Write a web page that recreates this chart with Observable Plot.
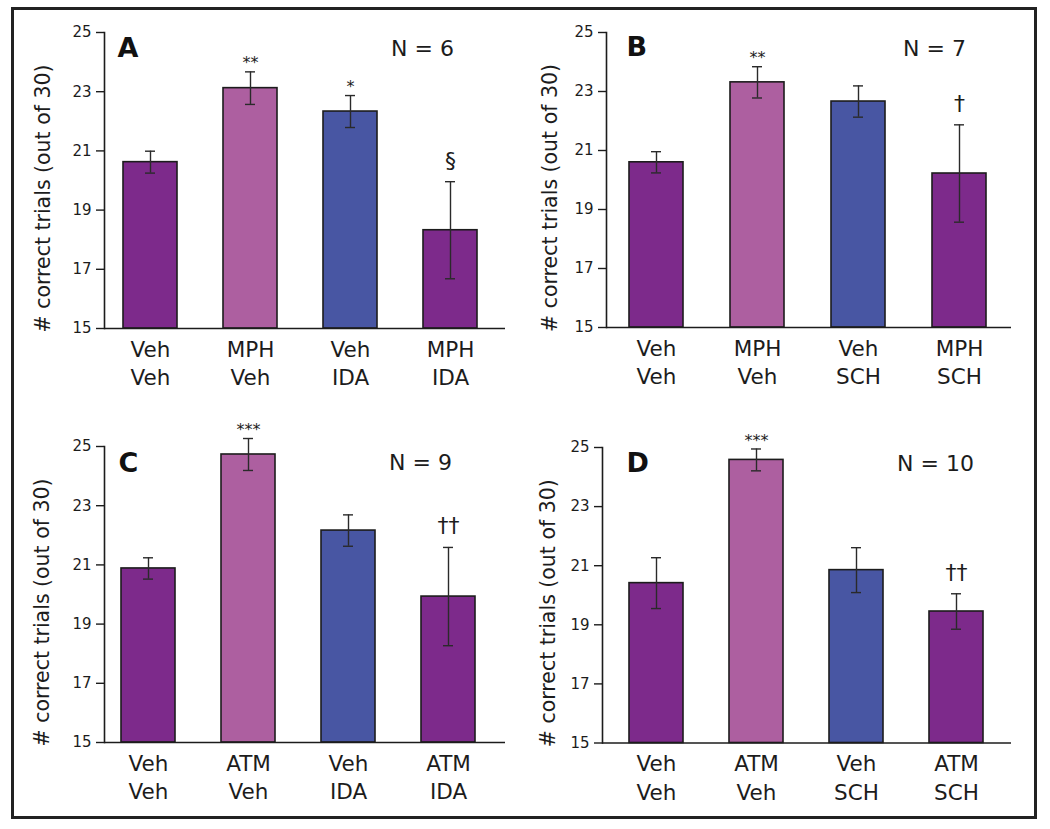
<!DOCTYPE html>
<html><head><meta charset="utf-8">
<script src="https://cdn.jsdelivr.net/npm/d3@7"></script>
<script src="https://cdn.jsdelivr.net/npm/@observablehq/plot@0.6"></script>
<style>
body{margin:0;background:#fff;}
#wrap{position:relative;width:1050px;height:829px;overflow:hidden;}
#border{position:absolute;left:11px;top:7px;width:1026px;height:812px;border:3px solid #222;box-sizing:border-box;}
</style></head><body><div id="wrap"><div id="border"></div></div>
<script>
// ---- data ----
const panelLetters = ["A", "B", "C", "D"];
const panelN = ["N = 6", "N = 7", "N = 9", "N = 10"];
const yLabel = "# correct trials (out of 30)";
const yTicks = [15, 17, 19, 21, 23, 25];
const groups = ["Veh+Veh", "Drug+Veh", "Veh+Antagonist", "Drug+Antagonist"];

const catsA = ["Veh\nVeh", "MPH\nVeh", "Veh\nIDA", "MPH\nIDA"];
const catsB = ["Veh\nVeh", "MPH\nVeh", "Veh\nSCH", "MPH\nSCH"];
const catsC = ["Veh\nVeh", "ATM\nVeh", "Veh\nIDA", "ATM\nIDA"];
const catsD = ["Veh\nVeh", "ATM\nVeh", "Veh\nSCH", "ATM\nSCH"];

const meanA = [20.62, 23.12, 22.33, 18.32];
const seA   = [0.37, 0.55, 0.54, 1.64];
const meanB = [20.60, 23.31, 22.66, 20.22];
const seB   = [0.36, 0.53, 0.53, 1.65];
const meanC = [20.88, 24.73, 22.16, 19.93];
const seC   = [0.36, 0.54, 0.53, 1.66];
const meanD = [20.41, 24.58, 20.85, 19.45];
const seD   = [0.86, 0.37, 0.76, 0.60];

const notesA = ["", "**", "*", "§"];
const notesB = ["", "**", "", "†"];
const notesC = ["", "***", "", "††"];
const notesD = ["", "***", "", "††"];

// ---- styles / layout ----
const colors = ["#7d2a8b", "#ad5fa0", "#4856a3", "#7d2a8b"];
const FONT = "DejaVu Sans, Liberation Sans, sans-serif";
const layout = [
  {left: 104, top: 32,  bottom: 328, right: 505,  first: 19, step: 100.0, labelDx: -61, letterDx: 13, letterDy: 5, nX: 318, nDy: 8},
  {left: 606, top: 32,  bottom: 327, right: 1011, first: 23, step: 101.3, labelDx: -56, letterDx: 20, letterDy: 4, nX: 328, nDy: 8},
  {left: 104, top: 446, bottom: 742, right: 505,  first: 17, step: 100.3, labelDx: -62, letterDx: 14, letterDy: 6, nX: 316, nDy: 8},
  {left: 602, top: 446.5, bottom: 742, right: 1011, first: 27, step: 100.3, labelDx: -54, letterDx: 24, letterDy: 5, nX: 333, nDy: 8}
];

const cats = [catsA, catsB, catsC, catsD];
const means = [meanA, meanB, meanC, meanD];
const ses = [seA, seB, seC, seD];
const notes = [notesA, notesB, notesC, notesD];

const wrap = document.getElementById("wrap");
const INK = "#1c1c1c";

for (let i = 0; i < 4; i++) {
  const L = layout[i];
  const ML = 100, MT = 30, MR = 8, MB = 80;
  const h = L.bottom - L.top;
  const w = L.right - L.left;
  const data = cats[i].map((c, j) => ({cat: c, mean: means[i][j], se: ses[i][j], group: groups[j], note: notes[i][j]}));
  const bw = 54;
  const pi = 1 - bw / L.step;
  const stars = data.filter(d => d.note && d.note[0] === "*");
  const others = data.filter(d => d.note && d.note[0] !== "*");
  const plot = Plot.plot({
    width: ML + w + MR,
    height: MT + h + MB,
    marginLeft: ML, marginTop: MT, marginRight: MR, marginBottom: MB,
    style: {fontFamily: FONT, fontSize: "15px", background: "transparent", color: INK, overflow: "visible"},
    x: {domain: cats[i], range: [ML + L.first, ML + L.first + 3 * L.step + bw], paddingInner: pi, paddingOuter: 0, align: 0},
    y: {domain: [15, 25]},
    color: {domain: groups, range: colors},
    marks: [
      Plot.barY(data, {x: "cat", y1: 15, y2: "mean", fill: "group", stroke: INK, strokeWidth: 1.6}),
      Plot.ruleX(data, {x: "cat", y1: d => d.mean - d.se, y2: d => d.mean + d.se, stroke: "#2a2a2a", strokeWidth: 1.4}),
      Plot.tickY(data, {x: "cat", y: d => d.mean + d.se, stroke: "#2a2a2a", strokeWidth: 1.4, insetLeft: 22, insetRight: 22}),
      Plot.tickY(data, {x: "cat", y: d => d.mean - d.se, stroke: "#2a2a2a", strokeWidth: 1.4, insetLeft: 22, insetRight: 22}),
      Plot.ruleY([15], {stroke: INK, strokeWidth: 1.6}),
      Plot.frame({anchor: "left", stroke: INK, strokeWidth: 1.6}),
      Plot.axisY({ticks: yTicks, tickSize: 8, tickPadding: 5, label: null, fontSize: 15, stroke: INK, strokeWidth: 1.4}),
      Plot.axisX({tickSize: 0, tickPadding: 8, label: null, fontSize: 21.5, lineHeight: 1.32}),
      Plot.text([yLabel], {frameAnchor: "left", rotate: -90, dx: L.labelDx, dy: 18, fontSize: 20.5, textAnchor: "middle", lineAnchor: "middle", fill: INK}),
      Plot.text([panelLetters[i]], {frameAnchor: "top-left", dx: L.letterDx, dy: L.letterDy, textAnchor: "start", lineAnchor: "top", fontSize: 27, fontWeight: "bold", fill: "#111"}),
      Plot.text([panelN[i]], {frameAnchor: "top-left", dx: L.nX, dy: L.nDy, textAnchor: "middle", lineAnchor: "top", fontSize: 22, fill: INK}),
      Plot.text(stars, {x: "cat", y: d => d.mean + d.se, text: "note", fontSize: 16, dy: -8.5, lineAnchor: "middle", fill: INK}),
      Plot.text(others, {x: "cat", y: d => d.mean + d.se, text: "note", fontSize: 22, dy: -21, lineAnchor: "middle", fill: INK})
    ]
  });
  plot.style.position = "absolute";
  plot.style.left = (L.left - ML) + "px";
  plot.style.top = (L.top - MT) + "px";
  wrap.appendChild(plot);
}
</script>
</body></html>
